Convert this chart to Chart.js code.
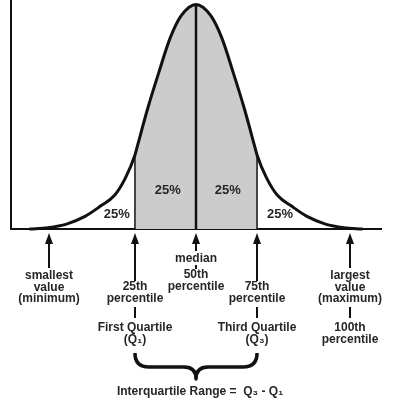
<!DOCTYPE html>
<html>
<head>
<meta charset="utf-8">
<script src="https://cdn.jsdelivr.net/npm/chart.js@4.4.1/dist/chart.umd.min.js"></script>
<style>
  body { margin: 0; background: #fff; }
  canvas { display: block; }
</style>
</head>
<body>
<canvas id="quartileChart" width="395" height="409"></canvas>
<script>
// curve (x: value scale 0-100, y: height, peak = 100)
const curveX = [5, 10, 15, 20, 24, 28, 31, 33.5, 34, 37, 40, 43, 46, 50, 54, 57, 60, 63, 66, 66.5, 69, 72, 76, 80, 85, 90, 95];
const curveY = [0, 0.6, 2.2, 5.6, 10, 15, 23, 33, 36, 54, 70, 85, 95, 100, 95, 85, 70, 54, 36, 33, 23, 15, 10, 5.6, 2.2, 0.6, 0];

// quartile positions
const q1 = 33.5;
const median = 50;
const q3 = 66.5;
const q1Height = 33;
const q3Height = 33;
const peakHeight = 100;

// percentage labels inside the curve
const pctLabels = ['25%', '25%', '25%', '25%'];
const pctX = [28.6, 42.4, 58.6, 72.7];
const pctY = [6.7, 17.4, 17.4, 6.7];

// markers under the axis
const markerX = [10.3, q1, median, q3, 91.6];
const upperText = [
  ['smallest', 'value', '(minimum)'],
  ['25th', 'percentile'],
  ['median'],
  ['75th', 'percentile'],
  ['largest', 'value', '(maximum)']
];
const lowerText = [
  [],
  ['First Quartile', '(Q\u2081)'],
  ['50th', 'percentile'],
  ['Third Quartile', '(Q\u2083)'],
  ['100th', 'percentile']
];
const iqrText = 'Interquartile Range =  Q\u2083 - Q\u2081';

const curveData = curveX.map((x, i) => ({ x: x, y: curveY[i] }));
const iqrData = curveData.filter(p => p.x >= q1 && p.x <= q3);

const FONT = 'bold 12px "Liberation Sans", Arial, sans-serif';
const TEXT_COLOR = '#262626';

// px offsets below the baseline for each marker
const shaftEnd = [39, 52, 22, 52, 39];
const upperStart = [47, 58, 30, 58, 47];
const connector = [null, [78, 89], [36, 40], [78, 89], [78, 89]];
const lowerStart = [null, 99, 46, 99, 99];
const LINE_H = 11.5;

const annotations = {
  id: 'annotations',
  afterDraw(chart) {
    const ctx = chart.ctx;
    const xs = chart.scales.x;
    const ys = chart.scales.y;
    const base = ys.getPixelForValue(0);

    ctx.save();
    ctx.fillStyle = TEXT_COLOR;
    ctx.textAlign = 'center';
    ctx.textBaseline = 'middle';

    // 25% labels
    ctx.font = 'bold 13px "Liberation Sans", Arial, sans-serif';
    pctLabels.forEach((t, i) => {
      ctx.fillText(t, xs.getPixelForValue(pctX[i]), ys.getPixelForValue(pctY[i]));
    });

    ctx.font = FONT;
    ctx.strokeStyle = '#111';
    markerX.forEach((v, i) => {
      const px = Math.round(xs.getPixelForValue(v));
      // arrow
      ctx.lineWidth = 2;
      ctx.beginPath();
      ctx.moveTo(px, base + 12);
      ctx.lineTo(px, base + shaftEnd[i]);
      ctx.stroke();
      ctx.fillStyle = '#111';
      ctx.beginPath();
      ctx.moveTo(px, base + 4);
      ctx.lineTo(px - 4, base + 15);
      ctx.lineTo(px + 4, base + 15);
      ctx.closePath();
      ctx.fill();

      ctx.fillStyle = TEXT_COLOR;
      upperText[i].forEach((t, j) => {
        ctx.fillText(t, px, base + upperStart[i] + j * LINE_H);
      });
      if (connector[i]) {
        ctx.lineWidth = 2;
        ctx.beginPath();
        ctx.moveTo(px, base + connector[i][0]);
        ctx.lineTo(px, base + connector[i][1]);
        ctx.stroke();
        lowerText[i].forEach((t, j) => {
          ctx.fillText(t, px, base + lowerStart[i] + j * LINE_H);
        });
      }
    });

    // brace under the interquartile range
    const left = xs.getPixelForValue(q1);
    const right = xs.getPixelForValue(q3);
    const mid = xs.getPixelForValue(median);
    const top = base + 124, bar = base + 138, tip = base + 150;
    ctx.lineWidth = 3.5;
    ctx.lineJoin = 'round';
    ctx.beginPath();
    ctx.moveTo(left, top);
    ctx.quadraticCurveTo(left, bar, left + 14, bar);
    ctx.lineTo(mid - 12, bar);
    ctx.quadraticCurveTo(mid, bar, mid, tip);
    ctx.quadraticCurveTo(mid, bar, mid + 12, bar);
    ctx.lineTo(right - 14, bar);
    ctx.quadraticCurveTo(right, bar, right, top);
    ctx.stroke();

    ctx.fillText(iqrText, mid + 4, base + 163);
    ctx.restore();
  }
};

const ctx = document.getElementById('quartileChart').getContext('2d');
const quartileChart = new Chart(ctx, {
  type: 'line',
  data: {
    datasets: [
      {
        label: 'curve',
        data: curveData,
        borderColor: '#111',
        borderWidth: 3,
        pointRadius: 0,
        cubicInterpolationMode: 'monotone',
        fill: false,
        clip: false,
        order: 0
      },
      {
        label: 'median',
        data: [{ x: median, y: 0 }, { x: median, y: peakHeight }],
        borderColor: '#111',
        borderWidth: 2.5,
        pointRadius: 0,
        order: 1
      },
      {
        label: 'Q1',
        data: [{ x: q1, y: 0 }, { x: q1, y: q1Height }],
        borderColor: '#111',
        borderWidth: 1.5,
        pointRadius: 0,
        order: 1
      },
      {
        label: 'Q3',
        data: [{ x: q3, y: 0 }, { x: q3, y: q3Height }],
        borderColor: '#111',
        borderWidth: 1.5,
        pointRadius: 0,
        order: 1
      },
      {
        label: 'IQR',
        data: iqrData,
        borderWidth: 0,
        pointRadius: 0,
        cubicInterpolationMode: 'monotone',
        backgroundColor: '#cccccc',
        fill: 'origin',
        order: 2
      }
    ]
  },
  options: {
    responsive: false,
    animation: false,
    devicePixelRatio: 1,
    layout: { padding: { left: 3, right: 14, top: 0, bottom: 172 } },
    plugins: {
      legend: { display: false },
      tooltip: { enabled: false }
    },
    scales: {
      x: {
        type: 'linear',
        min: 0,
        max: 100,
        grid: { display: false },
        ticks: { display: false },
        border: { display: true, color: '#111', width: 2 }
      },
      y: {
        min: 0,
        max: 102,
        grid: { display: false },
        ticks: { display: false },
        border: { display: true, color: '#111', width: 2 }
      }
    }
  },
  plugins: [annotations]
});
</script>
</body>
</html>
